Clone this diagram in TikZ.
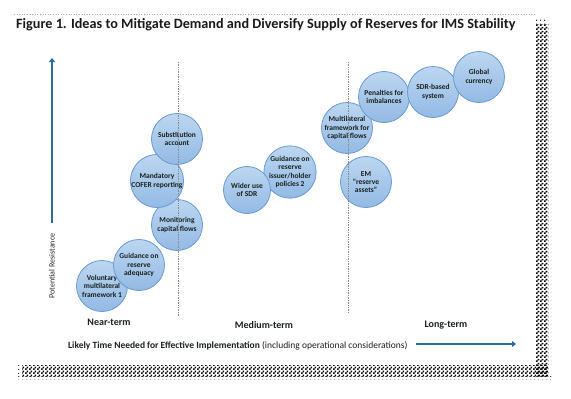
\documentclass[tikz,border=0pt]{standalone}
\usepackage{fontspec}
\setmainfont{Carlito}
\usetikzlibrary{patterns,arrows.meta}
\pgfdeclarepatternformonly{finechecker}{\pgfpointorigin}{\pgfqpoint{3.6pt}{3.6pt}}{\pgfqpoint{3.6pt}{3.6pt}}{%
  \pgfpathrectangle{\pgfpointorigin}{\pgfqpoint{1.8pt}{1.8pt}}%
  \pgfpathrectangle{\pgfqpoint{1.8pt}{1.8pt}}{\pgfqpoint{1.8pt}{1.8pt}}%
  \pgfusepath{fill}}
\pgfdeclarepatternformonly{sparsedots}{\pgfpointorigin}{\pgfqpoint{3.6pt}{3.6pt}}{\pgfqpoint{3.6pt}{3.6pt}}{%
  \pgfpathrectangle{\pgfpointorigin}{\pgfqpoint{1.3pt}{1.3pt}}%
  \pgfusepath{fill}}
\definecolor{arrowblue}{HTML}{2A6C9E}
\definecolor{ballfill}{HTML}{93BAE4}
\definecolor{balltop}{HTML}{BCD6F1}
\definecolor{ballline}{HTML}{6A99D0}
\definecolor{balltext}{HTML}{1A201C}
\definecolor{guide}{HTML}{8A8A8A}
\tikzset{
  idea/.style={circle, minimum size=51pt, inner sep=0pt, align=center,
    draw=ballline, line width=0.8pt, top color=balltop, bottom color=ballfill,
    text=balltext, font=\fontsize{7.5}{8.4}\selectfont\bfseries},
  guideline/.style={draw=guide, line width=0.7pt, densely dotted},
  axisarrow/.style={draw=arrowblue, line width=2.6pt, -{Triangle[length=4pt,width=6pt]}},
  termlabel/.style={font=\fontsize{10}{12}\selectfont\bfseries, text=balltext},
  shadowband/.style={pattern=finechecker, pattern color=black},
  shadowedge/.style={pattern=sparsedots, pattern color=black!80}
}
\begin{document}
\begin{tikzpicture}[x=1pt,y=-1pt]
\useasboundingbox (0,0) rectangle (571,399);
% frame
\draw[gray!60, line width=0.6pt, dotted] (14,14) -- (535,14);
\fill[shadowband] (536,24) rectangle (548,376);
\fill[shadowband] (22,365) rectangle (548,376);
\fill[shadowedge] (536,18) rectangle (548,24);
\fill[shadowedge] (548,24) rectangle (551,379);
\fill[shadowedge] (18,376) rectangle (551,379);
\fill[shadowedge] (18,365) rectangle (22,376);
% title
\node[anchor=base west, inner sep=0pt, font=\fontsize{14.2}{16}\selectfont\bfseries, text=black!90] (title) at (16,28) {Figure 1. Ideas to Mitigate Demand and Diversify Supply of Reserves for IMS Stability};
% vertical axis
\coordinate (vb) at (52,223);
\coordinate (vt) at (52,58);
\draw[axisarrow] (vb) -- (vt);
\node[rotate=90, font=\fontsize{8}{9}\selectfont, text=black!85, inner sep=0pt] (pr) at (52,266) {Potential Resistance};
% circles
\node[idea] (vol) at (102,286) {Voluntary\\multilateral\\framework 1};
\node[idea] (gra) at (139,265) {Guidance on\\reserve\\adequacy};
\node[idea] (mon) at (177,225) {Monitoring\\capital flows};
\node[idea] (cof) at (157,181) {Mandatory\\COFER reporting};
\node[idea] (sub) at (177,139) {Substitution\\account};
\node[idea] (gih) at (290,172) {Guidance on\\reserve\\issuer/holder\\policies 2};
\node[idea, minimum size=47pt] (sdr) at (247,190) {Wider use\\of SDR};
\node[idea] (mcf) at (347,128) {Multilateral\\framework for\\capital flows};
\node[idea] (em) at (366,182) {EM\\``reserve\\assets''};
\node[idea] (pen) at (384,97) {Penalties for\\imbalances};
\node[idea] (sbs) at (433,92) {SDR-based\\system};
\node[idea] (glo) at (479,77) {Global\\currency};
% guide lines
\coordinate (g1t) at (178,62);
\coordinate (g1b) at (178,316);
\coordinate (g2t) at (348,62);
\coordinate (g2b) at (348,312);
\draw[guideline] (g1t) -- (g1b);
\draw[guideline] (g2t) -- (g2b);
% term labels
\node[termlabel] (near) at (109,322) {Near-term};
\node[termlabel] (med) at (264,325) {Medium-term};
\node[termlabel] (long) at (446,325) {Long-term};
% horizontal axis
\node[anchor=base west, inner sep=0pt, font=\fontsize{9.5}{11}\selectfont, text=balltext] (ltn) at (68,348) {\textbf{Likely Time Needed for Effective Implementation} (including operational considerations)};
\coordinate (hs) at (416,344);
\coordinate (he) at (516,344);
\draw[axisarrow, line width=2pt] (hs) -- (he);
\end{tikzpicture}
\end{document}
